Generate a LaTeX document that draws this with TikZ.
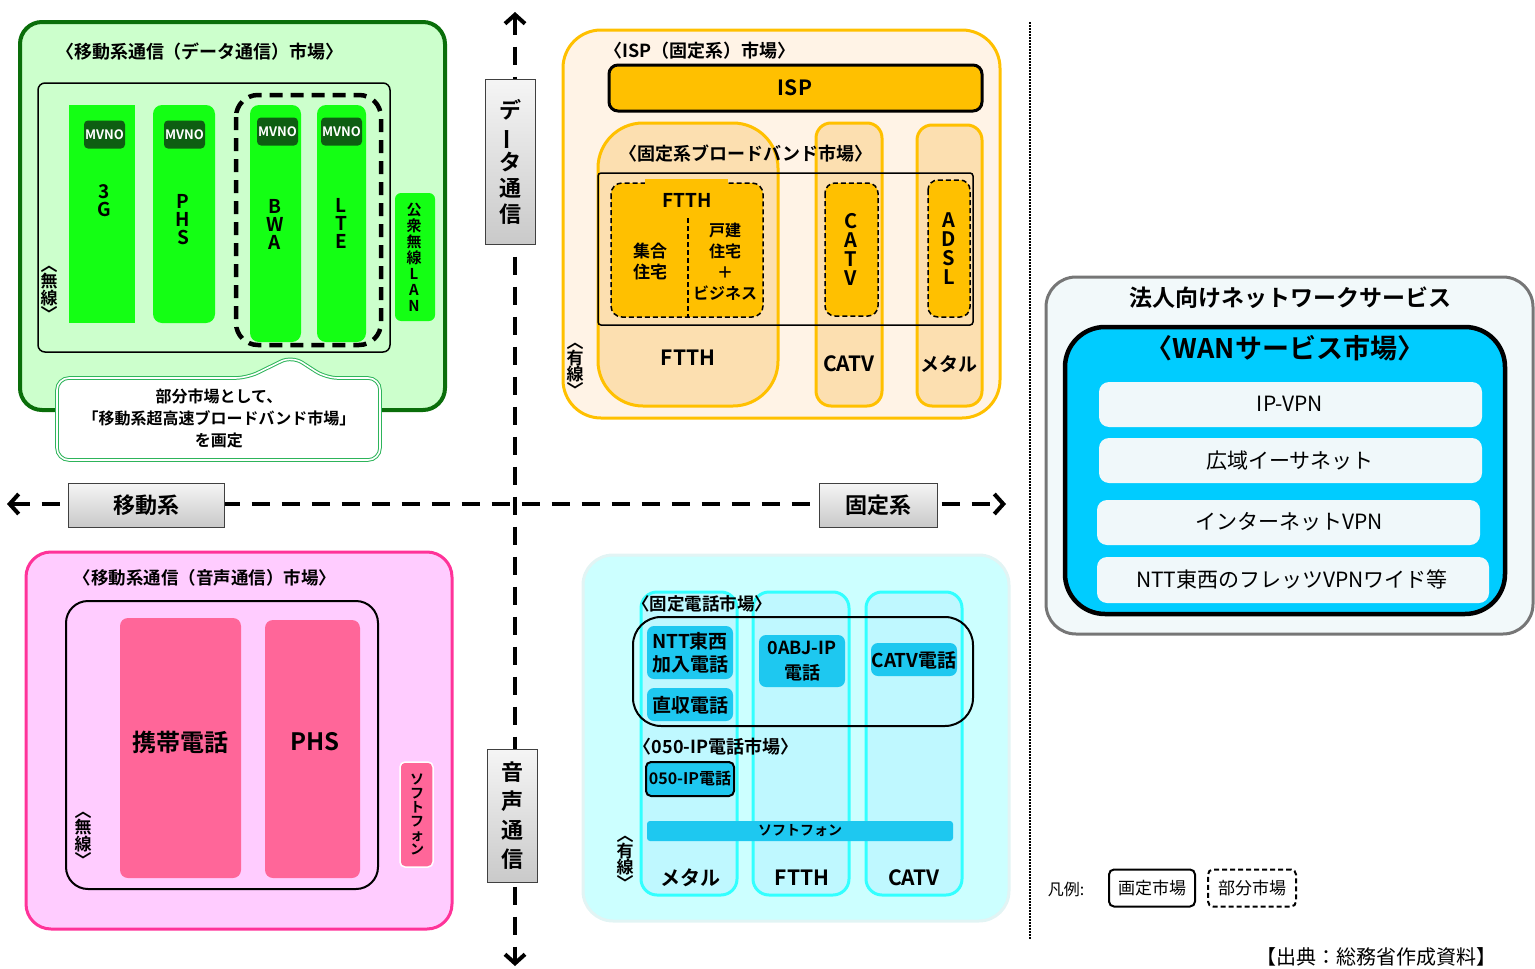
\documentclass[tikz,border=0pt]{standalone}
\usepackage{fontspec}
\usepackage{graphicx}
\setmainfont{Noto Sans CJK JP}[BoldFont={Noto Sans CJK JP Bold}]
\usetikzlibrary{positioning,arrows.meta}
\definecolor{grnfill}{HTML}{CCFFCC}
\definecolor{grnline}{HTML}{0A6E0A}
\definecolor{grnbar}{HTML}{14FF14}
\definecolor{mvno}{HTML}{0E5E12}
\definecolor{callgrn}{HTML}{2DB45A}
\definecolor{orgline}{HTML}{FFC000}
\definecolor{orgback}{HTML}{FFF3E6}
\definecolor{orgcol}{HTML}{FCDFB0}
\definecolor{pnkfill}{HTML}{FFCCFF}
\definecolor{pnkline}{HTML}{FF3399}
\definecolor{pnkbar}{HTML}{FF6699}
\definecolor{cyback}{HTML}{CCFFFF}
\definecolor{cyedge}{HTML}{E2F4F4}
\definecolor{cycol}{HTML}{33FFFF}
\definecolor{cycolfill}{HTML}{BFF8FF}
\definecolor{cybox}{HTML}{1EC8F0}
\definecolor{wan}{HTML}{00CCFF}
\definecolor{wanitem}{HTML}{F0F8FA}
\definecolor{corp}{HTML}{F2F9FA}
\definecolor{corpline}{HTML}{767676}
\newcommand{\pxfont}[2]{\fontsize{#1}{#2}\selectfont}
\tikzset{
  lbl/.style={inner sep=0pt, align=center},
  mvnobox/.style={fill=mvno, text=white, rounded corners=4pt, minimum width=41pt, minimum height=28pt, inner sep=0pt, font=\bfseries\pxfont{13}{13}},
  axbox/.style={draw=black!75, line width=1pt, top color=gray!8, bottom color=gray!42, inner sep=0pt, align=center},
  axisline/.style={line width=4pt, dash pattern=on 18pt off 12pt},
  partline/.style={line width=1.5pt, dash pattern=on 5pt off 3pt},
}
\begin{document}
\begin{tikzpicture}[x=1pt, y=-1pt, >={Straight Barb[length=9pt, width=20pt]}]
\useasboundingbox (0,0) rectangle (1535,969);

% mobile data market
\draw [line width=4pt, draw=grnline, fill=grnfill, rounded corners=22pt] (20,22) rectangle (445,410);
\node (mdtitle) [lbl, font=\bfseries\pxfont{18}{18}] at (200,52) {〈移動系通信（データ通信）市場〉};
\draw [line width=1.5pt, rounded corners=7pt] (38,83) rectangle (390,352);
\fill [grnbar] (69,105) rectangle (135,323);
\fill [grnbar, rounded corners=9pt] (153,105) rectangle (215,323);
\fill [grnbar, rounded corners=9pt] (250,105) rectangle (301,342);
\fill [grnbar, rounded corners=9pt] (317,105) rectangle (366,342);
\fill [grnbar, rounded corners=6pt] (395,193) rectangle (435,321);
\node (mv3g) [mvnobox] at (104.5,134.5) {MVNO};
\node (mvphs) [mvnobox] at (184.5,134.5) {MVNO};
\node (mvbwa) [mvnobox] at (277.5,131.5) {MVNO};
\node (mvlte) [mvnobox] at (341.5,131.5) {MVNO};
\node (d3g) [lbl, font=\bfseries\pxfont{19}{18}] at (104,201) {3\\G};
\node (dphs) [lbl, font=\bfseries\pxfont{19}{18}] at (183,220) {P\\H\\S};
\node (dbwa) [lbl, font=\bfseries\pxfont{19}{18}] at (275,224) {B\\W\\A};
\node (dlte) [lbl, font=\bfseries\pxfont{19}{18}] at (341,223) {L\\T\\E};
\node (dlan) [lbl, font=\bfseries\pxfont{15}{16}] at (414,257) {公\\衆\\無\\線\\L\\A\\N};
\node (wless1) [lbl, font=\bfseries\pxfont{17}{16}] at (49,293) {︿\\無\\線\\﹀};
\draw [line width=4.5pt, dash pattern=on 13pt off 8pt, rounded corners=22pt] (236,95) rectangle (381,345);
\draw [draw=callgrn, line width=1pt, double=white, double distance=1.6pt, fill=white, rounded corners=12pt]
  (57,378) -- (247,378) -- (292,356) -- (326,378) -- (380,378) -- (380,460) -- (57,460) -- cycle;
\node (callout) [lbl, font=\bfseries\pxfont{16}{22}] at (219,418) {部分市場として、\\「移動系超高速ブロードバンド市場」\\を画定};

% fixed ISP / broadband market
\draw [line width=3pt, draw=orgline, fill=orgback, rounded corners=38pt] (563,30) rectangle (1000,418);
\node (isptitle) [lbl, font=\bfseries\pxfont{18}{18}] at (700,51) {〈ISP（固定系）市場〉};
\draw [line width=3pt, fill=orgline, rounded corners=9pt] (609,65) rectangle (982,111);
\node (isp) [lbl, font=\bfseries\pxfont{21}{21}] at (795,88) {ISP};
\draw [line width=3pt, draw=orgline, fill=orgcol, rounded corners=45pt] (598,123) rectangle (778,406);
\draw [line width=3pt, draw=orgline, fill=orgcol, rounded corners=15pt] (816,123) rectangle (882,406);
\draw [line width=3pt, draw=orgline, fill=orgcol, rounded corners=15pt] (917,125) rectangle (982,406);
\node (bbtitle) [lbl, font=\bfseries\pxfont{18}{18}] at (746,154) {〈固定系ブロードバンド市場〉};
\draw [line width=1.5pt, rounded corners=3pt] (598,173) rectangle (973,325);
\draw [partline, fill=orgline, rounded corners=11pt] (611,183) rectangle (763,317);
\fill [orgline] (645,179) rectangle (728,187);
\draw [partline] (688,218) -- (688,317);
\node (ftthin) [lbl, font=\bfseries\pxfont{19}{19}] at (687,200) {FTTH};
\node (shugo) [lbl, font=\bfseries\pxfont{17}{21}] at (650,261) {集合\\住宅};
\node (kodate) [lbl, font=\bfseries\pxfont{16}{21}] at (725,262) {戸建\\住宅\\＋\\ビジネス};
\draw [partline, fill=orgline, rounded corners=10pt] (825,183) rectangle (878,316);
\draw [partline, fill=orgline, rounded corners=10pt] (928,180) rectangle (970,317);
\node (catvv) [lbl, font=\bfseries\pxfont{20}{19}] at (851,249) {C\\A\\T\\V};
\node (adslv) [lbl, font=\bfseries\pxfont{20}{19}] at (949,249) {A\\D\\S\\L};
\node (ftthcol) [lbl, font=\bfseries\pxfont{21}{21}] at (688,358) {FTTH};
\node (catvcol) [lbl, font=\bfseries\pxfont{21}{21}] at (849,364) {CATV};
\node (metalcol) [lbl, font=\bfseries\pxfont{19}{19}] at (949,364) {メタル};
\node (wired1) [lbl, font=\bfseries\pxfont{17}{16}] at (575,370) {︿\\有\\線\\﹀};

% mobile voice market
\draw [line width=3pt, draw=pnkline, fill=pnkfill, rounded corners=25pt] (26,552) rectangle (452,929);
\node (mvtitle) [lbl, font=\bfseries\pxfont{17.5}{18}] at (205,578) {〈移動系通信（音声通信）市場〉};
\draw [line width=2pt, rounded corners=22pt] (66,601) rectangle (378,889);
\fill [pnkbar, rounded corners=8pt] (120,618) rectangle (241,878);
\fill [pnkbar, rounded corners=8pt] (265,620) rectangle (360,878);
\node (keitai) [lbl, font=\bfseries\pxfont{24}{24}] at (180,742) {携帯電話};
\node (phsv) [lbl, font=\bfseries\pxfont{24}{24}] at (315,742) {PHS};
\draw [draw=white, line width=1.5pt, fill=pnkbar, rounded corners=5pt] (400,762) rectangle (433,867);
\node (softm) [lbl, font=\bfseries\pxfont{14}{14}] at (417,814) {ソ\\フ\\ト\\フ\\ォ\\ン};
\node (wless2) [lbl, font=\bfseries\pxfont{17}{16}] at (83,839) {︿\\無\\線\\﹀};

% fixed telephone market
\draw [line width=3pt, draw=cyedge, fill=cyback, rounded corners=30pt] (583,555) rectangle (1009,921);
\foreach \cx in {641,753,866}
  \draw [line width=3pt, draw=cycol, fill=cycolfill, rounded corners=16pt] (\cx,592) rectangle (\cx+96,895);
\node (fptitle) [lbl, font=\bfseries\pxfont{17.5}{18}] at (702,604) {〈固定電話市場〉};
\draw [line width=2pt, rounded corners=28pt] (633,617) rectangle (973,726);
\fill [cybox, rounded corners=7pt] (647,626) rectangle (733,679);
\fill [cybox, rounded corners=7pt] (647,688) rectangle (733,721);
\fill [cybox, rounded corners=7pt] (759,635) rectangle (845,687);
\fill [cybox, rounded corners=7pt] (871,643) rectangle (957,676);
\node (ntt) [lbl, font=\bfseries\pxfont{19}{23}] at (690,653) {NTT東西\\加入電話};
\node (chokushu) [lbl, font=\bfseries\pxfont{19}{19}] at (690,705) {直収電話};
\node (oabj) [lbl, font=\bfseries\pxfont{18}{25}] at (802,661) {0ABJ-IP\\電話};
\node (catvtel) [lbl, font=\bfseries\pxfont{19}{19}] at (914,660) {CATV電話};
\node (iptitle) [lbl, font=\bfseries\pxfont{18}{18}] at (716,747) {〈050-IP電話市場〉};
\draw [line width=2pt, fill=cybox, rounded corners=5pt] (646,762) rectangle (734,796);
\node (ip050) [lbl, font=\bfseries\pxfont{16}{16}] at (690,779) {050-IP電話};
\fill [cybox, rounded corners=3pt] (647,821) rectangle (953,841);
\node (softf) [lbl, font=\bfseries\pxfont{14}{14}] at (800,831) {ソフトフォン};
\node (metalb) [lbl, font=\bfseries\pxfont{20}{20}] at (690,878) {メタル};
\node (ftthb) [lbl, font=\bfseries\pxfont{21}{21}] at (802,878) {FTTH};
\node (catvb) [lbl, font=\bfseries\pxfont{21}{21}] at (914,878) {CATV};
\node (wired2) [lbl, font=\bfseries\pxfont{17}{16}] at (625,863) {︿\\有\\線\\﹀};

% axes
\coordinate (vtop) at (515,12);
\coordinate (vbot) at (515,966);
\coordinate (hleft) at (7,504);
\coordinate (hright) at (1006,504);
\draw [axisline, <->] (hleft) -- (hright);
\draw [axisline, <->] (vtop) -- (vbot);
\node (datacom) [axbox, minimum width=50pt, minimum height=165pt, font=\bfseries\pxfont{22}{26}] at (510,162) {デ\\\rotatebox[origin=c]{90}{ー}\\タ\\通\\信};
\node (voice) [axbox, minimum width=50pt, minimum height=133pt, font=\bfseries\pxfont{22}{29}] at (512,816) {音\\声\\通\\信};
\node (mobile) [axbox, minimum width=156pt, minimum height=44pt, font=\bfseries\pxfont{22}{22}] at (146,505) {移動系};
\node (fixed) [axbox, minimum width=118pt, minimum height=44pt, font=\bfseries\pxfont{22}{22}] at (878,505) {固定系};

% corporate services
\draw [line width=2.5pt, dash pattern=on 1.5pt off 1.5pt] (1030,22) -- (1030,940);
\draw [line width=3pt, draw=corpline, fill=corp, rounded corners=30pt] (1046,277) rectangle (1533,634);
\node (corptitle) [lbl, font=\bfseries\pxfont{23}{23}] at (1290,298) {法人向けネットワークサービス};
\draw [line width=4.5pt, fill=wan, rounded corners=40pt] (1065,327) rectangle (1505,614);
\node (wantitle) [lbl, font=\bfseries\pxfont{27}{27}] at (1285,348) {〈WANサービス市場〉};
\fill [wanitem, rounded corners=10pt] (1099,382) rectangle (1482,427);
\fill [wanitem, rounded corners=10pt] (1099,438) rectangle (1482,483);
\fill [wanitem, rounded corners=10pt] (1097,500) rectangle (1480,545);
\fill [wanitem, rounded corners=10pt] (1097,557) rectangle (1489,603);
\node (ipvpn) [lbl, font=\pxfont{21}{21}] at (1290,404) {IP-VPN};
\node (ether) [lbl, font=\pxfont{21}{21}] at (1290,461) {広域イーサネット};
\node (invpn) [lbl, font=\pxfont{21}{21}] at (1289,522) {インターネットVPN};
\node (flets) [lbl, font=\pxfont{21}{21}] at (1292,579) {NTT東西のフレッツVPNワイド等};

% legend
\node (hanrei) [lbl, font=\pxfont{16}{16}] at (1066,889) {凡例:};
\node (kakutei) [draw, line width=2pt, rounded corners=5pt, minimum width=86pt, minimum height=37pt, inner sep=0pt, font=\pxfont{17}{17}] at (1152,888) {画定市場};
\node (bubun) [draw, partline, line width=2pt, rounded corners=5pt, minimum width=88pt, minimum height=37pt, inner sep=0pt, font=\pxfont{17}{17}] at (1252,888) {部分市場};
\node (source) [lbl, font=\pxfont{20}{20}] at (1376,957) {【出典：総務省作成資料】};
\end{tikzpicture}
\end{document}
